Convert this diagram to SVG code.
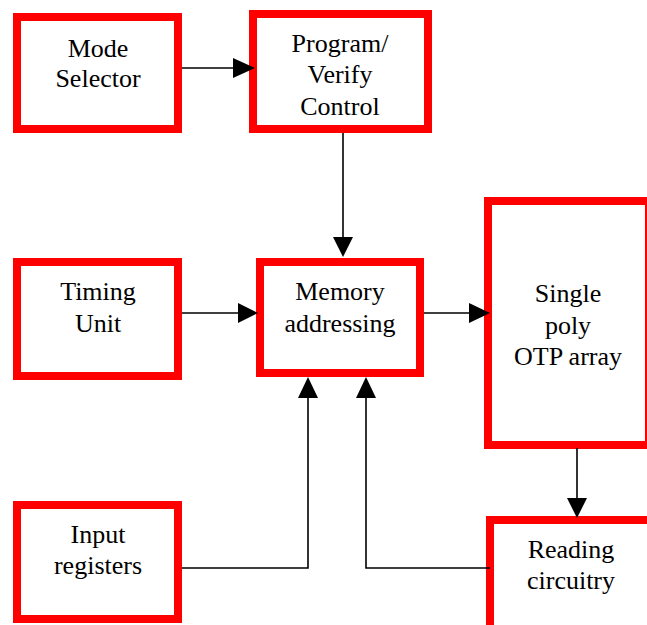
<svg xmlns="http://www.w3.org/2000/svg" width="647" height="625" viewBox="0 0 647 625">
<style>
.box{fill:#fff;stroke:#ff0000;stroke-width:8}
.lbl{font-size:26px;fill:#000;text-anchor:middle}
.ln{fill:none;stroke:#000;stroke-width:1.6}
.ah{fill:#000}
</style>
<rect width="647" height="625" fill="#fff"/>
<g font-family="Liberation Serif, Times New Roman, serif">
<g id="mode-selector">
<rect class="box" x="17" y="17" width="161" height="112"/>
<text class="lbl" x="98" y="57">Mode</text>
<text class="lbl" x="98" y="87">Selector</text>
</g>
<g id="program-verify-control">
<rect class="box" x="253" y="14" width="175" height="115"/>
<text class="lbl" x="340" y="52">Program/</text>
<text class="lbl" x="340" y="83">Verify</text>
<text class="lbl" x="340" y="115">Control</text>
</g>
<g id="timing-unit">
<rect class="box" x="17" y="262" width="161" height="114"/>
<text class="lbl" x="98" y="300">Timing</text>
<text class="lbl" x="98" y="332">Unit</text>
</g>
<g id="memory-addressing">
<rect class="box" x="260" y="262" width="160" height="111"/>
<text class="lbl" x="340" y="300">Memory</text>
<text class="lbl" x="340" y="332">addressing</text>
</g>
<g id="otp-array">
<rect class="box" x="488" y="201" width="161" height="244"/>
<text class="lbl" x="568" y="302">Single</text>
<text class="lbl" x="568" y="334">poly</text>
<text class="lbl" x="568" y="365">OTP array</text>
</g>
<g id="input-registers">
<rect class="box" x="17" y="505" width="161" height="114"/>
<text class="lbl" x="98" y="543">Input</text>
<text class="lbl" x="98" y="574">registers</text>
</g>
<g id="reading-circuitry">
<rect class="box" x="490" y="520" width="170" height="120"/>
<text class="lbl" x="571" y="558">Reading</text>
<text class="lbl" x="571" y="589">circuitry</text>
</g>
</g>
<g id="connectors">
<path class="ln" d="M182,68 L235,68"/>
<polygon class="ah" points="233,58 255,68 233,78"/>
<path class="ln" d="M343,133 L343,239"/>
<polygon class="ah" points="333,237 343,257 353,237"/>
<path class="ln" d="M182,313 L240,313"/>
<polygon class="ah" points="238,303 258,313 238,323"/>
<path class="ln" d="M424,313 L471,313"/>
<polygon class="ah" points="469,303 490,313 469,323"/>
<path class="ln" d="M577,448 L577,500"/>
<polygon class="ah" points="567,498 577,518 587,498"/>
<path class="ln" d="M182,568 L308,568 L308,396"/>
<polygon class="ah" points="298,398 308,377 318,398"/>
<path class="ln" d="M490,568 L366,568 L366,396"/>
<polygon class="ah" points="356,398 366,377 376,398"/>
</g>
</svg>
